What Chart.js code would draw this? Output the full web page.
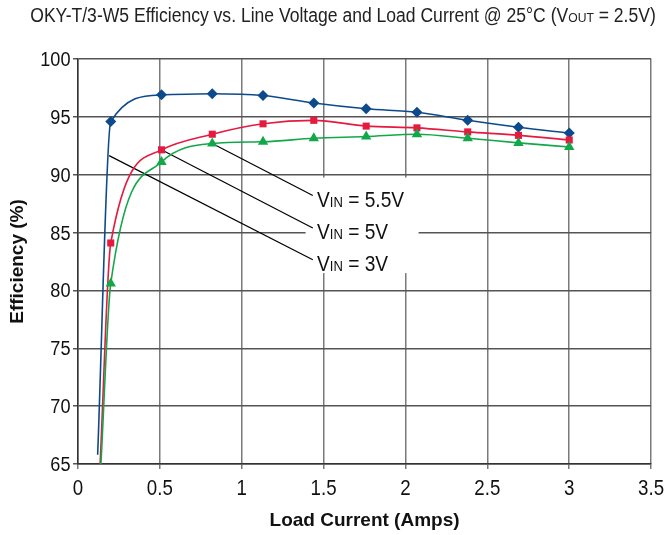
<!DOCTYPE html>
<html>
<head>
<meta charset="utf-8">
<script src="https://cdn.jsdelivr.net/npm/chart.js@4.4.1/dist/chart.umd.min.js"></script>
<style>
    html, body { margin: 0; padding: 0; background: #ffffff; }
    #wrap { width: 668px; height: 535px; }
</style>
</head>
<body>
<div id="wrap"><canvas id="efficiency_chart"></canvas></div>
<script>
const FONT = "'Liberation Sans', Arial, sans-serif";

// Load current (A) and efficiency (%) for each input voltage
const vin55Current = [0.12, 0.2, 0.51, 0.82, 1.13, 1.44, 1.76, 2.07, 2.38, 2.69, 3.0];
const vin55Eff = [65.8, 94.6, 96.9, 97.0, 96.85, 96.2, 95.7, 95.4, 94.7, 94.1, 93.6];

const vin5Current = [0.135, 0.2, 0.51, 0.82, 1.13, 1.44, 1.76, 2.07, 2.38, 2.69, 3.0];
const vin5Eff = [65.0, 84.1, 92.15, 93.5, 94.4, 94.7, 94.2, 94.05, 93.7, 93.4, 93.0];

const vin3Current = [0.14, 0.2, 0.51, 0.82, 1.13, 1.44, 1.76, 2.07, 2.38, 2.69, 3.0];
const vin3Eff = [65.0, 80.6, 91.1, 92.7, 92.85, 93.15, 93.3, 93.5, 93.15, 92.75, 92.4];

const seriesLabels = ["5.5V", "5V", "3V"];

function toPoints(xs, ys) {
    return xs.map((x, i) => ({ x: x, y: ys[i] }));
}

// text made of pieces with different sizes, squeezed sideways (condensed look)
function drawPieces(ctx, pieces, x, y, align, sx) {
    let total = 0;
    pieces.forEach(p => {
        ctx.font = `${p.weight || "normal"} ${p.size}px ${FONT}`;
        p.w = ctx.measureText(p.text).width;
        total += p.w;
    });
    let cx = 0;
    if (align === "center") cx = -total / 2;
    if (align === "right") cx = -total;

    ctx.save();
    ctx.translate(x, y);
    ctx.scale(sx, 1);
    ctx.textAlign = "left";
    ctx.textBaseline = "alphabetic";
    pieces.forEach(p => {
        ctx.font = `${p.weight || "normal"} ${p.size}px ${FONT}`;
        ctx.fillText(p.text, cx, 0);
        cx += p.w;
    });
    ctx.restore();
}

const labelPlugin = {
    id: "labelPlugin",

    beforeDatasetsDraw(chart) {
        const ctx = chart.ctx;
        const xs = chart.scales.x;
        const ys = chart.scales.y;

        // white box behind the series labels
        const left = xs.getPixelForValue(1.39);
        const right = xs.getPixelForValue(2.08);
        const top = ys.getPixelForValue(89.75);
        const bottom = ys.getPixelForValue(81.5);
        ctx.save();
        ctx.fillStyle = "#ffffff";
        ctx.fillRect(left, top, right - left, bottom - top);

        // leader lines
        const leaders = [
            [0.82, 92.7, 1.434, 88.2],
            [0.53, 92.0, 1.434, 85.4],
            [0.19, 91.65, 1.434, 82.65]
        ];
        ctx.strokeStyle = "#000000";
        ctx.lineWidth = 1.2;
        leaders.forEach(l => {
            ctx.beginPath();
            ctx.moveTo(xs.getPixelForValue(l[0]), ys.getPixelForValue(l[1]));
            ctx.lineTo(xs.getPixelForValue(l[2]), ys.getPixelForValue(l[3]));
            ctx.stroke();
        });

        // series labels
        ctx.fillStyle = "#111111";
        const labelY = [87.2, 84.45, 81.7];
        seriesLabels.forEach((s, i) => {
            drawPieces(ctx, [
                { text: "V", size: 22 },
                { text: "IN", size: 15 },
                { text: " = " + s, size: 22 }
            ], xs.getPixelForValue(1.46), ys.getPixelForValue(labelY[i]), "left", 0.87);
        });
        ctx.restore();
    },

    afterDraw(chart) {
        const ctx = chart.ctx;
        const xs = chart.scales.x;
        const ys = chart.scales.y;
        ctx.save();

        // tick labels
        ctx.fillStyle = "#111111";
        xs.ticks.forEach(t => {
            drawPieces(ctx, [{ text: String(t.value), size: 21.5 }],
                xs.getPixelForValue(t.value), xs.bottom - 71 + 31, "center", 0.87);
        });
        ys.ticks.forEach(t => {
            drawPieces(ctx, [{ text: String(t.value), size: 19.5 }],
                ys.right - 7.5, ys.getPixelForValue(t.value) + 7, "right", 0.93);
        });

        // title
        ctx.fillStyle = "#222222";
        drawPieces(ctx, [
            { text: "OKY-T/3-W5 Efficiency vs. Line Voltage and Load Current @ 25°C (V", size: 19.5 },
            { text: "OUT", size: 13.5 },
            { text: " = 2.5V)", size: 19.5 }
        ], 343, 21.5, "center", 0.9);
        ctx.restore();
    }
};

function makeSeries(label, xs, ys, color, style, radius) {
    return {
        label: label,
        data: toPoints(xs, ys),
        borderColor: color,
        backgroundColor: color,
        borderWidth: 1.6,
        cubicInterpolationMode: "monotone",
        pointStyle: style,
        pointRadius: ctx => (ctx.dataIndex === 0 ? 0 : radius),
        pointBorderWidth: 0,
        pointBackgroundColor: color
    };
}

new Chart(document.getElementById("efficiency_chart"), {
    type: "line",

    data: {
        datasets: [
            makeSeries("VIN = 3V", vin3Current, vin3Eff, "#12a84a", "triangle", 6),
            makeSeries("VIN = 5V", vin5Current, vin5Eff, "#e61a3f", "rect", 5),
            makeSeries("VIN = 5.5V", vin55Current, vin55Eff, "#0d4a8c", "rectRot", 5.5)
        ]
    },

    options: {
        responsive: true,
        maintainAspectRatio: false,
        animation: false,

        layout: {
            padding: { top: 59, right: 16, left: 0, bottom: 0 }
        },

        scales: {
            x: {
                type: "linear",
                min: 0,
                max: 3.5,

                ticks: {
                    stepSize: 0.5,
                    color: "rgba(0,0,0,0)",
                    font: { family: FONT, size: 20 }
                },

                title: {
                    display: true,
                    text: "Load Current (Amps)",
                    color: "#111111",
                    padding: { top: 0, bottom: 3 },
                    font: { family: FONT, size: 19, weight: "bold" }
                },

                grid: {
                    color: "#7a7a7a",
                    lineWidth: 1.5,
                    tickLength: 5
                },

                border: { color: "#333333", width: 1.5 },

                afterFit(scale) {
                    scale.height = 71;
                }
            },

            y: {
                min: 65,
                max: 100,

                ticks: {
                    stepSize: 5,
                    color: "rgba(0,0,0,0)",
                    font: { family: FONT, size: 20 }
                },

                title: {
                    display: true,
                    text: "Efficiency (%)",
                    color: "#111111",
                    padding: { top: 6, bottom: 0 },
                    font: { family: FONT, size: 19, weight: "bold" }
                },

                grid: {
                    color: "#555555",
                    lineWidth: 1.5,
                    tickLength: 5
                },

                border: { color: "#333333", width: 1.5 },

                afterFit(scale) {
                    scale.width = 78;
                }
            }
        },

        plugins: {
            legend: { display: false },
            tooltip: { enabled: false }
        }
    },

    plugins: [labelPlugin]
});
</script>
</body>
</html>
